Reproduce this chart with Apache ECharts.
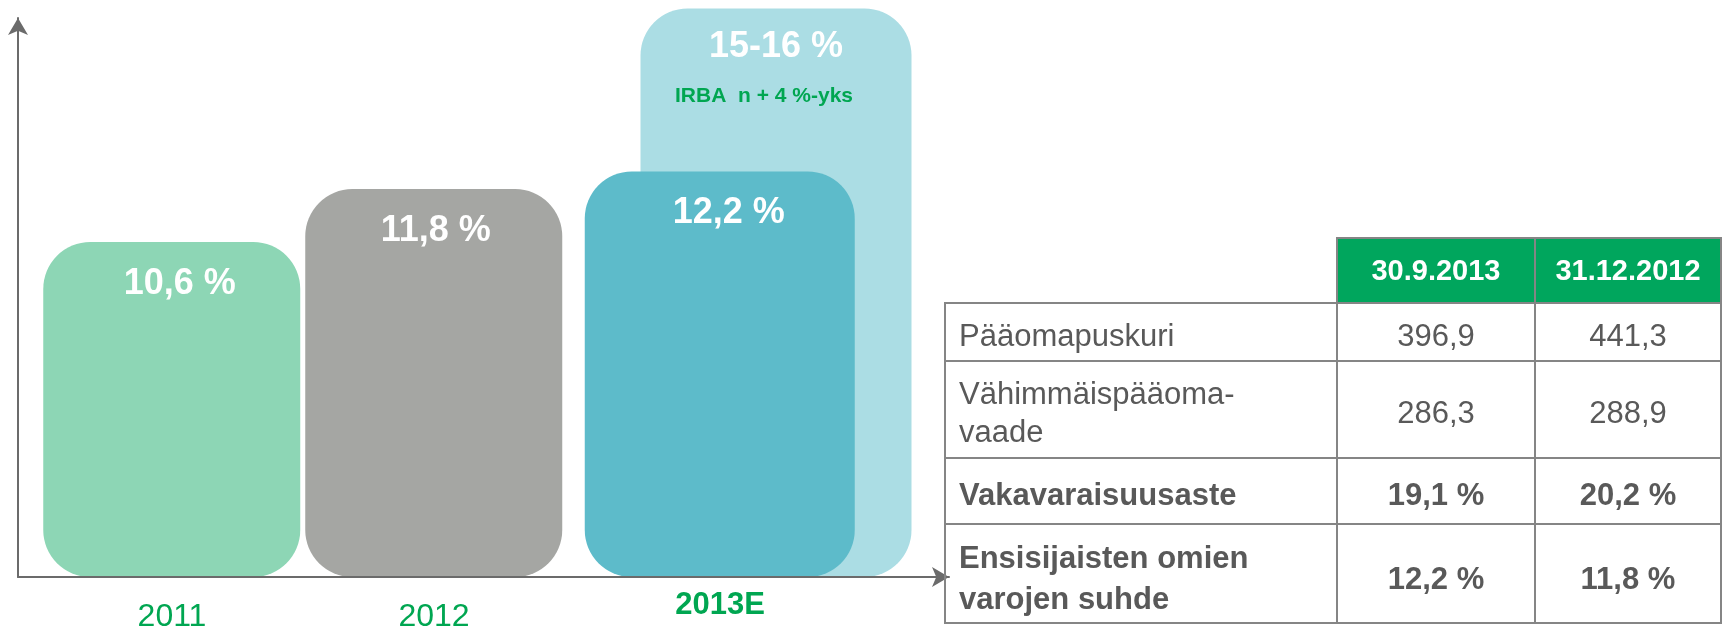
<!DOCTYPE html>
<html>
<head>
<meta charset="utf-8">
<title>Ensisijaisten omien varojen suhde</title>
<script src="https://cdn.jsdelivr.net/npm/echarts@6/dist/echarts.min.js"></script>
<style>
  html, body { margin: 0; padding: 0; background: #fff; }
  #wrap { position: relative; width: 1723px; height: 627px; overflow: hidden; }
  #chart { position: absolute; left: 0; top: 0; width: 1723px; height: 627px; }
  #table {
    position: absolute; left: 944px; top: 237px;
    border-collapse: collapse; table-layout: fixed;
    font-family: 'Liberation Sans', Arial, sans-serif; color: #595959;
  }
  #table th, #table td { border: 2px solid #858585; padding: 0; }
  #table th { background: #00a65d; color: #fff; font-size: 29px; font-weight: bold; text-align: center; }
  #table th.blank { background: transparent; border-top: none; border-left: none; }
  #table td { font-size: 31px; text-align: center; line-height: 38px; padding-top: 7px; }
  #table td.lbl { text-align: left; padding-left: 13px; }
  #table tr.r2 td, #table tr.r3 td { font-weight: bold; }
  #table tr.r3 td { line-height: 41px; padding-top: 9px; }
</style>
</head>
<body>
<div id="wrap">
  <div id="chart"></div>
  <table id="table"></table>
</div>
<script>
// pylväät
const years = ['2011', '2012', '2013E']
const ratioActual = [10.6, 11.8, '-']
const ratio2013 = ['-', '-', 12.2]
const ratioTarget = ['-', '-', 15.9]
const targetText = ['15-16 %', 'IRBA  n + 4 %-yks']

// taulukko
const tableCols = ['30.9.2013', '31.12.2012']
const tableRows = ['Pääomapuskuri', 'Vähimmäispääoma-\nvaade', 'Vakavaraisuusaste', 'Ensisijaisten omien\nvarojen suhde']
const col2013 = ['396,9', '286,3', '19,1 %', '12,2 %']
const col2012 = ['441,3', '288,9', '20,2 %', '11,8 %']

const font = 'Liberation Sans, Arial, sans-serif'
const barColors = ['#8dd6b5', '#a5a6a3']
const green = '#00a651'
const radius = 47
// tekstien pieni siirto oikealle, kuten alkuperäisessä
const labelShift = [8, 2, 9]

const fmt = v => String(v).replace('.', ',') + ' %'

const barLabel = {
  show: true,
  position: 'insideTop',
  distance: 20,
  color: '#fff',
  fontFamily: font,
  fontSize: 36,
  fontWeight: 'bold',
  lineHeight: 44,
  formatter: p => fmt(p.value)
}

const withShift = arr => arr.map((v, i) => v === '-' ? v : { value: v, label: { offset: [labelShift[i], 0] } })

const chart = echarts.init(document.getElementById('chart'))
chart.setOption({
  animation: false,
  textStyle: { fontFamily: font },
  grid: [
    // akselit
    { left: 18, right: 774, top: 18, bottom: 50, outerBoundsMode: 'none' },
    // 2011, 2012, 2013E
    { left: 56, width: 786, top: 4, bottom: 50, outerBoundsMode: 'none' },
    // tavoite 15-16 %
    { left: 121, width: 786, top: 4, bottom: 50, outerBoundsMode: 'none' }
  ],
  xAxis: [
    {
      gridIndex: 0, type: 'value', min: 0, max: 1, z: 10,
      axisLine: { onZero: false, symbol: ['none', 'arrow'], symbolSize: [15, 17], lineStyle: { color: '#6b6b6b', width: 2 } },
      axisTick: { show: false }, axisLabel: { show: false }, splitLine: { show: false }
    },
    {
      gridIndex: 1, type: 'category', data: years,
      axisLine: { show: false }, axisTick: { show: false },
      axisLabel: {
        interval: 0,
        margin: 11,
        formatter: (v, i) => i === 2 ? '{e|' + v + '}' : '{y|' + v + '}',
        rich: {
          y: { color: green, fontFamily: font, fontSize: 32, lineHeight: 34, padding: [24, 30, 0, 0] },
          e: { color: green, fontFamily: font, fontSize: 31, fontWeight: 'bold', lineHeight: 34, padding: [0, 0, 0, 18] }
        }
      }
    },
    { gridIndex: 2, type: 'category', data: years, show: false }
  ],
  yAxis: [
    {
      gridIndex: 0, type: 'value', min: 0, max: 1, z: 10,
      axisLine: { show: true, onZero: false, symbol: ['none', 'arrow'], symbolSize: [15, 17], lineStyle: { color: '#6b6b6b', width: 2 } },
      axisTick: { show: false }, axisLabel: { show: false }, splitLine: { show: false }
    },
    { gridIndex: 1, type: 'value', min: 3, max: 16, startValue: 3, show: false },
    { gridIndex: 2, type: 'value', min: 3, max: 16, startValue: 3, show: false }
  ],
  series: [
    {
      name: 'Ensisijaisten omien varojen suhde',
      type: 'bar',
      xAxisIndex: 1,
      yAxisIndex: 1,
      barWidth: 257,
      clip: false,
      z: 3,
      data: withShift(ratioActual),
      itemStyle: { borderRadius: radius, color: p => barColors[p.dataIndex] },
      label: barLabel
    },
    {
      name: '2013E',
      type: 'bar',
      xAxisIndex: 1,
      yAxisIndex: 1,
      barWidth: 270,
      barGap: '-93.19%',
      clip: false,
      z: 3,
      data: withShift(ratio2013),
      itemStyle: { borderRadius: radius, color: '#5dbbca' },
      label: barLabel
    },
    {
      name: 'Tavoite',
      type: 'bar',
      xAxisIndex: 2,
      yAxisIndex: 2,
      barWidth: 271,
      clip: false,
      z: 2,
      data: ratioTarget,
      itemStyle: { borderRadius: radius, color: '#abdde4' },
      label: {
        show: true,
        position: 'insideTop',
        distance: 17,
        formatter: () => '{a|' + targetText[0] + '}\n{b|' + targetText[1] + '}',
        rich: {
          a: { color: '#fff', fontFamily: font, fontSize: 36, fontWeight: 'bold', lineHeight: 44 },
          b: { color: green, fontFamily: font, fontSize: 21, fontWeight: 'bold', lineHeight: 54, padding: [0, 24, 0, 0] }
        }
      }
    }
  ]
})

// taulukko oikealla
const heights = [65, 58, 97, 66, 99]
const widths = [392, 198, 186]
let html = '<colgroup>' + widths.map(w => '<col style="width:' + w + 'px">').join('') + '</colgroup>'
html += '<tr style="height:' + heights[0] + 'px"><th class="blank"></th>' + tableCols.map(c => '<th>' + c + '</th>').join('') + '</tr>'
tableRows.forEach((r, i) => {
  html += '<tr class="r' + i + '" style="height:' + heights[i + 1] + 'px">' +
    '<td class="lbl">' + r.replace('\n', '<br>') + '</td>' +
    '<td>' + col2013[i] + '</td><td>' + col2012[i] + '</td></tr>'
})
document.getElementById('table').innerHTML = html
</script>
</body>
</html>
